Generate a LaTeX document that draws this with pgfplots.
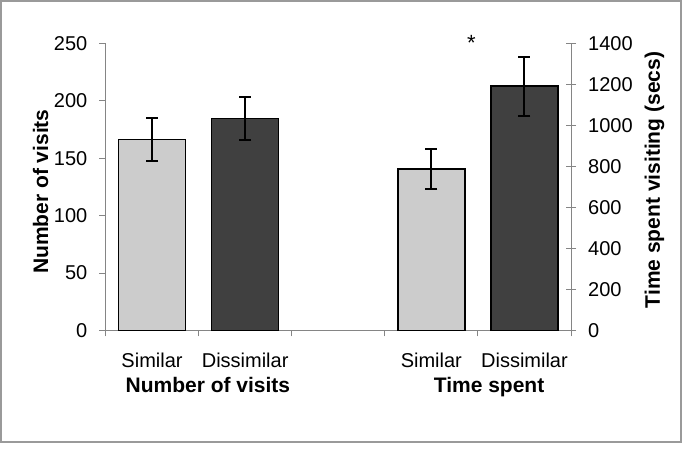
\documentclass[border=0pt]{standalone}
\usepackage{fontspec}
\setmainfont{Liberation Sans}
\usepackage{pgfplots}
\pgfplotsset{compat=1.18}
\definecolor{lightbar}{HTML}{CCCCCC}
\definecolor{darkbar}{HTML}{404040}
\definecolor{axisgray}{HTML}{858585}
\definecolor{framegray}{HTML}{9A9A9A}
\begin{document}
\begin{tikzpicture}
\useasboundingbox (0,0) rectangle (697pt,457pt);
\draw[color=framegray, line width=1.5pt] (1pt,456pt) rectangle (681pt,15pt);
\pgfplotsset{
  common/.style={
    at={(105.5pt,126.5pt)}, anchor=south west,
    width=465.5pt, height=287pt, scale only axis,
    xmin=-0.5, xmax=4.5, ymin=0,
    ybar, bar width=67pt, bar shift=0pt,
    axis line style={axisgray, line width=1pt},
    tick style={axisgray, line width=1pt},
    /pgf/number format/assume math mode=true,
    /pgf/number format/1000 sep={},
    ticklabel style={font=\fontsize{20}{24}\selectfont},
    label style={font=\fontsize{21}{25}\selectfont\bfseries},
    clip=false,
  },
  barstyle/.style={draw=black, line width=1.5pt,
    /pgfplots/error bars/y dir=both, /pgfplots/error bars/y explicit,
    /pgfplots/error bars/error bar style={black, line width=2pt},
    /pgfplots/error bars/error mark options={rotate=90, mark size=6pt, black, line width=2pt}},
}
\begin{axis}[common, ymax=250, ytick={0,50,...,250},
  axis x line*=bottom, axis y line*=left,
  xtick={0,1,3,4}, xticklabels={Similar,Dissimilar,Similar,Dissimilar},
  major x tick style={draw=none},
  minor xtick={-0.5,0.5,1.5,2.5,3.5,4.5}, minor tick length=6pt,
  tick align=outside, major tick length=6pt,
  xticklabel style={anchor=base, inner sep=0pt, yshift=-31pt},
  yticklabel style={anchor=east, inner sep=0pt, xshift=-12pt},
  ylabel={Number of visits},
  ylabel style={at={(axis description cs:-0.1235,0.484)}, anchor=base},
]
\addplot[barstyle, fill=lightbar] coordinates {(0,166.5) +- (0,18.5)};
\addplot[barstyle, fill=darkbar] coordinates {(1,184.5) +- (0,18.5)};
\node[anchor=base, yshift=-62pt, font=\fontsize{21}{25}\selectfont\bfseries] at (axis cs:0.6,0) {Number of visits};
\node[anchor=base, yshift=-62pt, font=\fontsize{21}{25}\selectfont\bfseries] at (axis cs:3.62,0) {Time spent};
\end{axis}
\begin{axis}[common, ymax=1400, ytick={0,200,...,1400},
  axis y line*=right, axis x line=none,
  tick align=center, major tick length=10pt,
  yticklabel style={anchor=west, inner sep=0pt, xshift=12pt},
  ylabel={Time spent visiting (secs)},
  ylabel style={at={(axis description cs:1.191,0.524)}, anchor=base},
]
\addplot[barstyle, fill=lightbar] coordinates {(3,788) +- (0,96)};
\addplot[barstyle, fill=darkbar] coordinates {(4,1192) +- (0,144)};
\node[anchor=base, font=\fontsize{22}{26}\selectfont] at (axis cs:3.43,1365) {*};
\end{axis}
\end{tikzpicture}
\end{document}
